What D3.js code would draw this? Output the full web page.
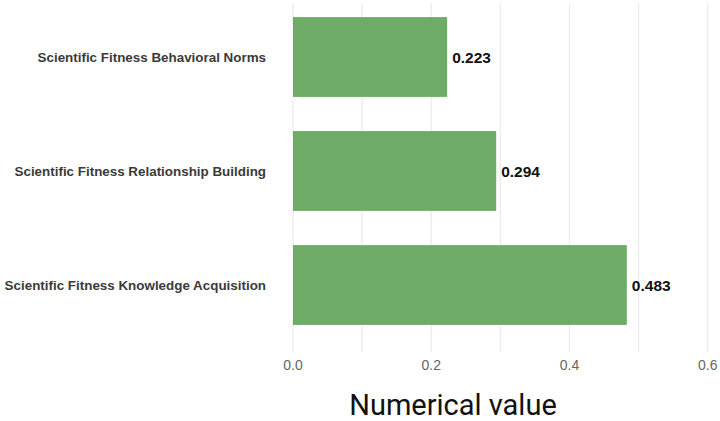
<!DOCTYPE html>
<meta charset="utf-8">
<script src="https://d3js.org/d3.v7.min.js"></script>
<style>
  body { margin: 0; background: #fff; }
  svg { display: block; font-family: "Liberation Sans", Arial, sans-serif; }
</style>
<div id="my_dataviz"></div>
<script>
  // data
  var categories = [
    "Scientific Fitness Behavioral Norms",
    "Scientific Fitness Relationship Building",
    "Scientific Fitness Knowledge Acquisition"
  ];
  var values = [0.223, 0.294, 0.483];
  var xTicks = [0, 0.2, 0.4, 0.6];
  var xGrid = [0, 0.1, 0.2, 0.3, 0.4, 0.5, 0.6];

  var width = 720, height = 421;
  var plot = {left: 293, right: 707.7, top: 0, bottom: 352};

  var svg = d3.select("#my_dataviz")
    .append("svg")
      .attr("width", width)
      .attr("height", height);

  var x = d3.scaleLinear()
    .domain([0, 0.6])
    .range([plot.left, plot.right]);

  var y = d3.scaleBand()
    .domain(categories)
    .range([0, 342])
    .paddingInner(0.3)
    .paddingOuter(0.15);

  // grid lines
  svg.append("g")
    .selectAll("line")
    .data(xGrid)
    .enter().append("line")
      .attr("x1", function(d) { return x(d); })
      .attr("x2", function(d) { return x(d); })
      .attr("y1", 3)
      .attr("y2", plot.bottom)
      .attr("stroke", "#ebebeb")
      .attr("stroke-width", 1.3);

  // bars
  svg.append("g")
    .selectAll("rect")
    .data(values)
    .enter().append("rect")
      .attr("x", x(0))
      .attr("y", function(d, i) { return y(categories[i]); })
      .attr("width", function(d) { return x(d) - x(0); })
      .attr("height", y.bandwidth())
      .attr("fill", "#6dab66");

  // value labels
  svg.append("g")
    .selectAll("text")
    .data(values)
    .enter().append("text")
      .attr("x", function(d) { return x(d) + 5; })
      .attr("y", function(d, i) { return y(categories[i]) + y.bandwidth() / 2; })
      .attr("dy", "0.36em")
      .attr("font-size", 15.5)
      .attr("font-weight", "bold")
      .attr("fill", "#111")
      .text(function(d) { return d3.format(".3f")(d); });

  // category labels
  svg.append("g")
    .selectAll("text")
    .data(categories)
    .enter().append("text")
      .attr("x", 266)
      .attr("y", function(d) { return y(d) + y.bandwidth() / 2; })
      .attr("dy", "0.36em")
      .attr("text-anchor", "end")
      .attr("font-size", 13.4)
      .attr("font-weight", "bold")
      .attr("fill", "#3a3a3a")
      .text(function(d) { return d; });

  // x tick labels
  svg.append("g")
    .selectAll("text")
    .data(xTicks)
    .enter().append("text")
      .attr("x", function(d) { return x(d); })
      .attr("y", 370)
      .attr("text-anchor", "middle")
      .attr("font-size", 14)
      .attr("fill", "#666")
      .text(function(d) { return d3.format(".1f")(d); });

  // axis title
  svg.append("text")
    .attr("x", 453)
    .attr("y", 415)
    .attr("text-anchor", "middle")
    .attr("font-family", "Roboto, 'Noto Sans', sans-serif")
    .attr("font-size", 29)
    .attr("fill", "#111")
    .text("Numerical value");
</script>
